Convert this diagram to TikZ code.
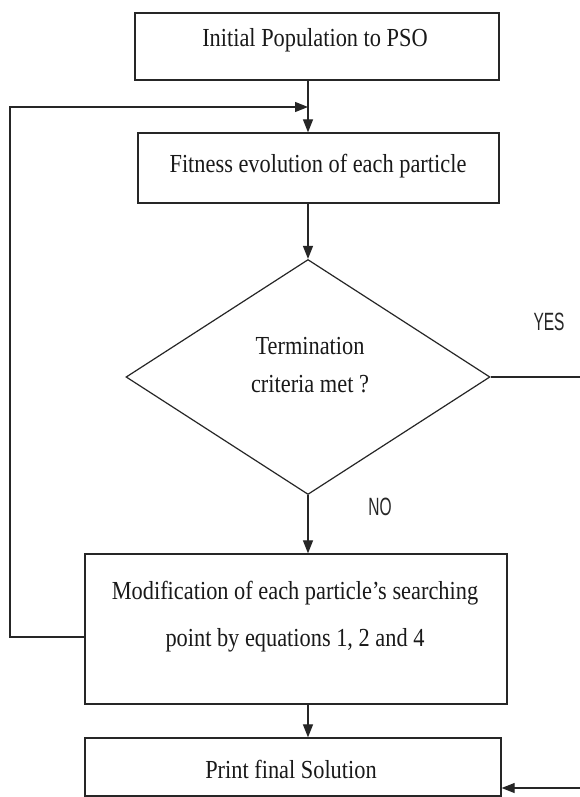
\documentclass[tikz,border=0pt]{standalone}
\usepackage{fontspec}
\setmainfont{Liberation Serif}[FakeStretch=0.86]
\newfontfamily\labelfont{Liberation Sans}[FakeStretch=0.62]
\usetikzlibrary{arrows.meta,shapes.geometric}
\begin{document}
\begin{tikzpicture}[x=1pt,y=-1pt,
  box/.style={draw=black!85, line width=1.3pt, rectangle, inner sep=0pt},
  txt/.style={font=\fontsize{26}{47}\selectfont, anchor=base, inner sep=0pt, align=center, text=black!90},
  yn/.style={font=\labelfont\fontsize{25}{25}\selectfont, inner sep=0pt, text=black!85},
  arr/.style={draw=black!85, line width=1.2pt, -{Triangle[length=13pt,width=10pt]}},
  lin/.style={draw=black!85, line width=1.2pt}]
\useasboundingbox (0,0) rectangle (579,797);
\fill[white] (0,0) rectangle (579,797);

% boxes
\node[box, minimum width=364pt, minimum height=67pt] (init) at (317,46.5) {};
\node[txt] (initT) at (315,47) {Initial Population to PSO};

\node[box, minimum width=361pt, minimum height=70pt] (fit) at (318.5,168) {};
\node[txt] (fitT) at (318,172) {Fitness evolution of each particle};

\node[draw=black!85, line width=1.2pt, diamond, minimum width=364pt, minimum height=235pt, inner sep=0pt] (dia) at (308,377) {};
\node[txt, font=\fontsize{26}{38}\selectfont] (diaT) at (310,392) {Termination\\criteria met ?};

\node[box, minimum width=422pt, minimum height=150pt] (mod) at (296,629) {};
\node[txt] (modT) at (295,646) {Modification of each particle’s searching\\point by equations 1, 2 and 4};

\node[box, minimum width=416pt, minimum height=58pt] (prt) at (293,767) {};
\node[txt] (prtT) at (291,778) {Print final Solution};

% labels
\node[yn] (yes) at (549,322) {YES};
\node[yn] (no) at (380,507) {NO};

% connectors
\draw[arr] (init.south -| dia.north) -- (fit.north -| dia.north);
\draw[arr] (fit.south -| dia.north) -- (dia.north);
\draw[arr] (dia.south) -- (mod.north -| dia.south);
\draw[arr] (mod.south -| dia.south) -- (prt.north -| dia.south);

\coordinate (lp) at (10,107);
\draw[arr] ([yshift=-8pt]mod.west) -| (lp) -- (lp -| dia.north);

\coordinate (rt1) at (592,377);
\coordinate (rt2) at (592,788);
\draw[arr] (dia.east) -- (rt1) -- (rt2) -- (rt2 -| prt.east);
\end{tikzpicture}
\end{document}
